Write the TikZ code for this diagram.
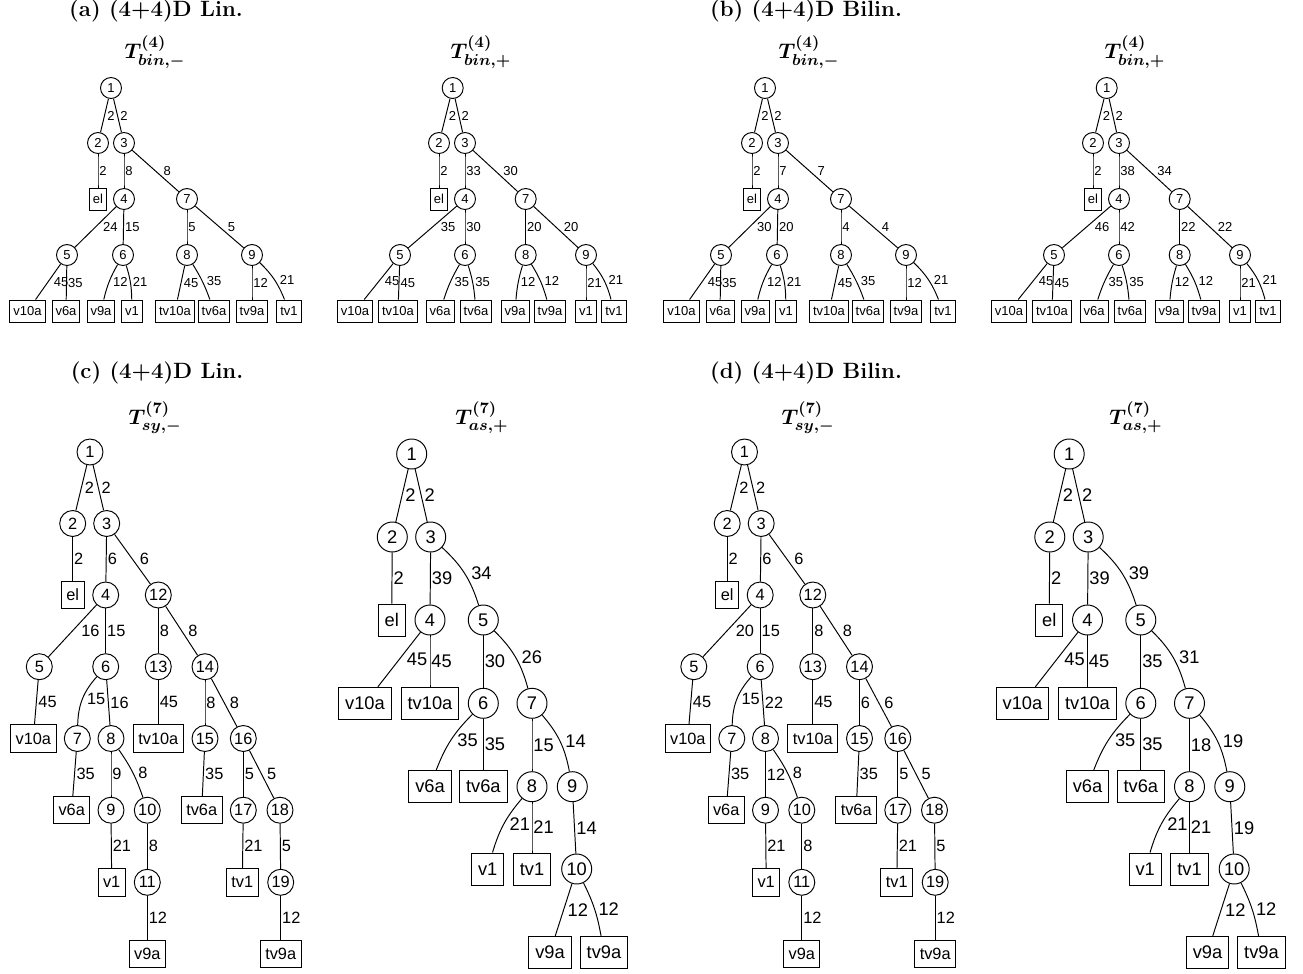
\documentclass[tikz,border=0pt]{standalone}
\usepackage{fontspec}
\usepackage{amsmath,amssymb}
\usepackage{bm}
\usetikzlibrary{calc}
\newfontfamily\arial{Liberation Sans}

\tikzset{
	vxs/.style={circle, draw, inner sep=0.5pt, minimum size=0.42cm},
	lfs/.style={draw, inner xsep=0.07cm, inner ysep=0pt, minimum height=0.44cm},
	vxm/.style={circle, draw, inner sep=0.5pt, minimum size=0.52cm},
	lfm/.style={draw, inner xsep=0.1cm, inner ysep=0pt, minimum height=0.55cm},
	vxl/.style={circle, draw, inner sep=0.5pt, minimum size=0.6cm},
	lfl/.style={draw, inner xsep=0.13cm, inner ysep=0pt, minimum height=0.64cm},
	lab/.style={anchor=west, inner sep=0pt},
	ttl/.style={anchor=base, font=\bfseries\fontsize{12.6}{15}\selectfont},
	mttl/.style={anchor=base, font=\fontsize{12.6}{15}\selectfont},
}

% trees of the top row
\newcommand{\binminus}[1]{%
	\foreach \n/\x/\y in {1/111/88, 2/98/143, 3/124/143, 4/124/199, 7/187/199, 5/67/255, 6/123/255, 8/187/255, 9/252/255}
	\node[vxs] (#1-\n) at (\x,\y) {\n};
	\node[lfs] (#1-el) at (98,199) {el};
	\foreach \n/\x in {v10a/27.5, v6a/66, v9a/101, v1/132, tv10a/175, tv6a/214, tv9a/252, tv1/289}
	\node[lfs] (#1-\n) at (\x,311) {\n};
}
\newcommand{\binplus}[1]{%
	\foreach \n/\x/\y in {1/452.7/88, 2/439/143, 3/465/143, 4/465/199, 7/525.7/199, 5/400/255, 6/465/255, 8/525.7/255, 9/586/255}
	\node[vxs] (#1-\n) at (\x,\y) {\n};
	\node[lfs] (#1-el) at (439,199) {el};
	\foreach \n/\x in {v10a/355, tv10a/398, v6a/440, tv6a/476, v9a/515, tv9a/550, v1/586, tv1/614}
	\node[lfs] (#1-\n) at (\x,311) {\n};
}
% trees of the bottom row
\newcommand{\symtree}[1]{%
	\foreach \n/\x/\y in {1/90/452, 2/72.7/523.5, 3/106.7/523.5, 4/105.7/595, 12/158.3/595,
		5/39.3/666.7, 6/105.7/666.7, 13/158.3/666.7, 14/205/666.7,
		7/77.3/738.5, 8/111/738.5, 15/205/738.5, 16/243.3/738.5,
		9/111/810.2, 10/147.3/810.2, 17/243.3/810.2, 18/280/810.2,
		11/147.3/882.3, 19/280.7/882.3}
	\node[vxm] (#1-\n) at (\x,\y) {\n};
	\foreach \n/\x/\y in {el/72.7/595, v10a/33.3/738.5, tv10a/158.3/738.5, v6a/71.7/810.2, tv6a/201.7/810.2,
		v1/111.7/882.3, tv1/242.3/882.3, v9a/147.3/954, tv9a/280.7/954}
	\node[lfm] (#1-\n) at (\x,\y) {\n};
}
\newcommand{\asymtree}[1]{%
	\foreach \n/\x/\y in {1/411.7/454, 2/392.3/537, 3/430.7/537, 4/430/620, 5/483.3/620,
		6/483.3/703.3, 7/532/703.3, 8/532/786.7, 9/572.3/786.7, 10/576.7/869}
	\node[vxl] (#1-\n) at (\x,\y) {\n};
	\foreach \n/\x/\y in {el/391.7/620, v10a/365/703.3, tv10a/430/703.3, v6a/430/786.7, tv6a/483.3/786.7,
		v1/487.7/869, tv1/532/869, v9a/550/952.3, tv9a/604/952.3}
	\node[lfl] (#1-\n) at (\x,\y) {\n};
}
% from/to/weight/bend
\newcommand{\treeedges}[3]{%
	\foreach \i/\j/\w/\k in {#3}
	\draw let \p1=($(#1-\j)-(#1-\i)$), \n1={(1+#2*abs(\x1/\y1))*0.569} in
	(#1-\i) to[bend left=\k] node[lab, xshift=\n1] {\w} (#1-\j);
}

\begin{document}
\begin{tikzpicture}[x=0.02cm, y=-0.02cm, line width=0.55pt]
	\useasboundingbox (0,0) rectangle (1303,974);
	
	\node[ttl] (ta) at (156,16.5) {(a) (4+4)D Lin.};
	\node[ttl] (tb) at (806,16.5) {(b) (4+4)D Bilin.};
	\node[ttl] (tc) at (157,378) {(c) (4+4)D Lin.};
	\node[ttl] (td) at (806,378) {(d) (4+4)D Bilin.};
	
	\node[mttl] (ma1) at (155,58.5) {$\bm{T^{(4)}_{bin,-}}$};
	\node[mttl] (ma2) at (481,58.5) {$\bm{T^{(4)}_{bin,+}}$};
	\node[mttl] (mb1) at (809,58.5) {$\bm{T^{(4)}_{bin,-}}$};
	\node[mttl] (mb2) at (1135,58.5) {$\bm{T^{(4)}_{bin,+}}$};
	\node[mttl] (mc1) at (155,424.5) {$\bm{T^{(7)}_{sy,-}}$};
	\node[mttl] (mc2) at (482,424.5) {$\bm{T^{(7)}_{as,+}}$};
	\node[mttl] (md1) at (808,424.5) {$\bm{T^{(7)}_{sy,-}}$};
	\node[mttl] (md2) at (1136,424.5) {$\bm{T^{(7)}_{as,+}}$};
	
	\begin{scope}[font=\arial\fontsize{7.4}{9}\selectfont]
		\binminus{a}
		\treeedges{a}{6}{1/2/2/0, 1/3/2/0, 2/el/2/0, 3/4/8/0, 3/7/8/0, 4/5/24/0, 4/6/15/0, 7/8/5/0, 7/9/5/0,
			5/v10a/45/0, 5/v6a/35/0, 6/v9a/12/-8, 6/v1/21/8, 8/tv10a/45/0, 8/tv6a/35/6, 9/tv9a/12/0, 9/tv1/21/12}
		\binplus{p}
		\treeedges{p}{6}{1/2/2/0, 1/3/2/0, 2/el/2/0, 3/4/33/0, 3/7/30/0, 4/5/35/0, 4/6/30/0, 7/8/20/0, 7/9/20/0,
			5/v10a/45/0, 5/tv10a/45/0, 6/v6a/35/-6, 6/tv6a/35/6, 8/v9a/12/-6, 8/tv9a/12/8, 9/v1/21/0, 9/tv1/21/12}
	\end{scope}
	\begin{scope}[shift={(654,0)}, font=\arial\fontsize{7.4}{9}\selectfont]
		\binminus{b}
		\treeedges{b}{6}{1/2/2/0, 1/3/2/0, 2/el/2/0, 3/4/7/0, 3/7/7/0, 4/5/30/0, 4/6/20/0, 7/8/4/0, 7/9/4/0,
			5/v10a/45/0, 5/v6a/35/0, 6/v9a/12/-8, 6/v1/21/8, 8/tv10a/45/0, 8/tv6a/35/6, 9/tv9a/12/0, 9/tv1/21/12}
		\binplus{q}
		\treeedges{q}{6}{1/2/2/0, 1/3/2/0, 2/el/2/0, 3/4/38/0, 3/7/34/0, 4/5/46/0, 4/6/42/0, 7/8/22/0, 7/9/22/0,
			5/v10a/45/0, 5/tv10a/45/0, 6/v6a/35/-6, 6/tv6a/35/6, 8/v9a/12/-6, 8/tv9a/12/8, 9/v1/21/0, 9/tv1/21/12}
	\end{scope}
	
	\begin{scope}[font=\arial\fontsize{9.3}{11}\selectfont]
		\symtree{c}
		\treeedges{c}{8}{1/2/2/0, 1/3/2/0, 2/el/2/0, 3/4/6/0, 3/12/6/0, 4/5/16/0, 4/6/15/0, 12/13/8/0, 12/14/8/0,
			5/v10a/45/0, 6/7/15/-20, 6/8/16/0, 13/tv10a/45/0, 14/15/8/0, 14/16/8/0, 7/v6a/35/0, 8/9/9/0, 8/10/8/8,
			15/tv6a/35/0, 16/17/5/0, 16/18/5/0, 9/v1/21/0, 10/11/8/0, 17/tv1/21/0, 18/19/5/0, 11/v9a/12/0, 19/tv9a/12/0}
	\end{scope}
	\begin{scope}[shift={(654.5,0)}, font=\arial\fontsize{9.3}{11}\selectfont]
		\symtree{d}
		\treeedges{d}{8}{1/2/2/0, 1/3/2/0, 2/el/2/0, 3/4/6/0, 3/12/6/0, 4/5/20/0, 4/6/15/0, 12/13/8/0, 12/14/8/0,
			5/v10a/45/0, 6/7/15/-20, 6/8/22/0, 13/tv10a/45/0, 14/15/6/0, 14/16/6/0, 7/v6a/35/0, 8/9/12/0, 8/10/8/8,
			15/tv6a/35/0, 16/17/5/0, 16/18/5/0, 9/v1/21/0, 10/11/8/0, 17/tv1/21/0, 18/19/5/0, 11/v9a/12/0, 19/tv9a/12/0}
	\end{scope}
	
	\begin{scope}[font=\arial\fontsize{10.4}{12}\selectfont]
		\asymtree{e}
		\treeedges{e}{8}{1/2/2/0, 1/3/2/0, 2/el/2/0, 3/4/39/0, 3/5/34/15, 4/v10a/45/0, 4/tv10a/45/0, 5/6/30/0, 5/7/26/15,
			6/v6a/35/-12, 6/tv6a/35/0, 7/8/15/0, 7/9/14/15, 8/v1/21/-12, 8/tv1/21/0, 9/10/14/0, 10/v9a/12/0, 10/tv9a/12/8}
	\end{scope}
	\begin{scope}[shift={(657.5,0)}, font=\arial\fontsize{10.4}{12}\selectfont]
		\asymtree{f}
		\treeedges{f}{8}{1/2/2/0, 1/3/2/0, 2/el/2/0, 3/4/39/0, 3/5/39/15, 4/v10a/45/0, 4/tv10a/45/0, 5/6/35/0, 5/7/31/15,
			6/v6a/35/-12, 6/tv6a/35/0, 7/8/18/0, 7/9/19/15, 8/v1/21/-12, 8/tv1/21/0, 9/10/19/0, 10/v9a/12/0, 10/tv9a/12/8}
	\end{scope}
\end{tikzpicture}
\end{document}
